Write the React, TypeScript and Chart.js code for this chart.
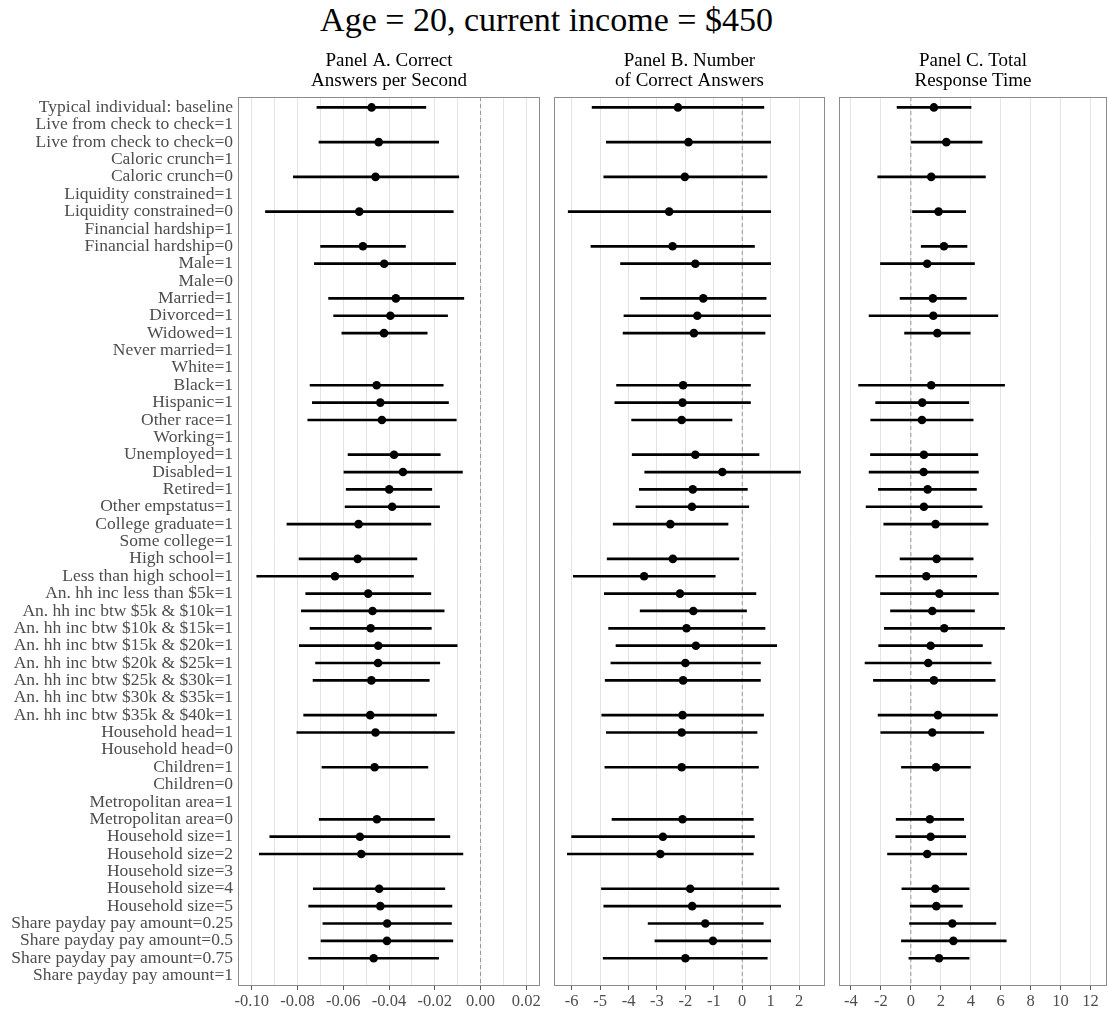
import React, { useEffect, useRef } from "react";
import { Chart, registerables } from "chart.js";

Chart.register(...registerables);

const FONT = "'Liberation Serif', 'Times New Roman', Times, serif";

const mainTitle = "Age = 20, current income = $450";

const categories = [
  "Typical individual: baseline",
  "Live from check to check=1",
  "Live from check to check=0",
  "Caloric crunch=1",
  "Caloric crunch=0",
  "Liquidity constrained=1",
  "Liquidity constrained=0",
  "Financial hardship=1",
  "Financial hardship=0",
  "Male=1",
  "Male=0",
  "Married=1",
  "Divorced=1",
  "Widowed=1",
  "Never married=1",
  "White=1",
  "Black=1",
  "Hispanic=1",
  "Other race=1",
  "Working=1",
  "Unemployed=1",
  "Disabled=1",
  "Retired=1",
  "Other empstatus=1",
  "College graduate=1",
  "Some college=1",
  "High school=1",
  "Less than high school=1",
  "An. hh inc less than $5k=1",
  "An. hh inc btw $5k & $10k=1",
  "An. hh inc btw $10k & $15k=1",
  "An. hh inc btw $15k & $20k=1",
  "An. hh inc btw $20k & $25k=1",
  "An. hh inc btw $25k & $30k=1",
  "An. hh inc btw $30k & $35k=1",
  "An. hh inc btw $35k & $40k=1",
  "Household head=1",
  "Household head=0",
  "Children=1",
  "Children=0",
  "Metropolitan area=1",
  "Metropolitan area=0",
  "Household size=1",
  "Household size=2",
  "Household size=3",
  "Household size=4",
  "Household size=5",
  "Share payday pay amount=0.25",
  "Share payday pay amount=0.5",
  "Share payday pay amount=0.75",
  "Share payday pay amount=1",
];

const N = null;

// Panel A: Correct answers per second
const aLow = [
  -0.0715, N, -0.0706, N, -0.0818, N, -0.094, N, -0.0699, -0.0726, N,
  -0.0664, -0.0642, -0.0606, N, N, -0.0745, -0.0735, -0.0755, N,
  -0.0579, -0.0597, -0.0587, -0.0592, -0.0846, N, -0.0793, -0.0978,
  -0.0764, -0.0783, -0.0745, -0.0792, -0.0721, -0.0732, N, -0.0773,
  -0.0803, N, -0.0693, N, N, -0.0705, -0.0921, -0.0967, N, -0.0731,
  -0.0751, -0.0689, -0.0697, -0.0751, N,
];
const aEst = [
  -0.0476, N, -0.0445, N, -0.0459, N, -0.053, N, -0.0514, -0.0421, N,
  -0.037, -0.0394, -0.0422, N, N, -0.0454, -0.0438, -0.0431, N,
  -0.0378, -0.0339, -0.0399, -0.0386, -0.0533, N, -0.0537, -0.0636,
  -0.0491, -0.0472, -0.048, -0.0447, -0.0448, -0.0477, N, -0.0482,
  -0.0459, N, -0.0463, N, N, -0.0453, -0.0527, -0.0521, N, -0.0443,
  -0.0438, -0.0408, -0.0409, -0.0467, N,
];
const aHigh = [
  -0.0239, N, -0.0183, N, -0.0095, N, -0.0119, N, -0.0328, -0.0109, N,
  -0.0073, -0.0144, -0.0233, N, N, -0.0163, -0.014, -0.0106, N,
  -0.0176, -0.0079, -0.0213, -0.0179, -0.0217, N, -0.0278, -0.0293,
  -0.0217, -0.0159, -0.0215, -0.0102, -0.0178, -0.0224, N, -0.0192,
  -0.0114, N, -0.023, N, N, -0.0201, -0.0134, -0.0077, N, -0.0156,
  -0.0125, -0.0127, -0.0121, -0.0183, N,
];

// Panel B: Number of correct answers
const bLow = [
  -5.28, N, -4.78, N, -4.87, N, -6.12, N, -5.32, -4.28, N,
  -3.58, -4.16, -4.19, N, N, -4.42, -4.48, -3.89, N,
  -3.87, -3.43, -3.62, -3.74, -4.54, N, -4.75, -5.94,
  -4.85, -3.59, -4.7, -4.44, -4.62, -4.82, N, -4.94,
  -4.78, N, -4.83, N, N, -4.58, -6.0, -6.15, N, -4.95,
  -4.87, -3.31, -3.07, -4.89, N,
];
const bEst = [
  -2.26, N, -1.89, N, -2.02, N, -2.57, N, -2.45, -1.65, N,
  -1.37, -1.58, -1.7, N, N, -2.08, -2.1, -2.13, N,
  -1.65, -0.7, -1.74, -1.77, -2.53, N, -2.44, -3.45,
  -2.19, -1.72, -1.96, -1.63, -2.0, -2.08, N, -2.1,
  -2.13, N, -2.13, N, N, -2.1, -2.79, -2.88, N, -1.83,
  -1.76, -1.3, -1.03, -2.0, N,
];
const bHigh = [
  0.76, N, 1.0, N, 0.87, N, 1.0, N, 0.43, 1.0, N,
  0.84, 1.0, 0.8, N, N, 0.29, 0.29, -0.36, N,
  0.59, 2.05, 0.18, 0.23, -0.5, N, -0.12, -0.95,
  0.48, 0.15, 0.8, 1.21, 0.64, 0.64, N, 0.75,
  0.52, N, 0.57, N, N, 0.39, 0.43, 0.39, N, 1.29,
  1.35, 0.74, 1.0, 0.88, N,
];

// Panel C: Total response time
const cLow = [
  -0.92, N, 0.0, N, -2.21, N, 0.11, N, 0.69, -2.03, N,
  -0.72, -2.79, -0.42, N, N, -3.49, -2.35, -2.68, N,
  -2.7, -2.79, -2.17, -2.99, -1.81, N, -0.72, -2.35,
  -2.03, -1.36, -1.77, -2.15, -3.06, -2.5, N, -2.19,
  -2.01, N, -0.63, N, N, -0.98, -1.01, -1.56, N, -0.6,
  -0.04, -0.09, -0.63, -0.13, N,
];
const cEst = [
  1.54, N, 2.37, N, 1.36, N, 1.85, N, 2.21, 1.09, N,
  1.47, 1.5, 1.77, N, N, 1.36, 0.76, 0.74, N,
  0.87, 0.85, 1.12, 0.87, 1.65, N, 1.72, 1.03,
  1.9, 1.43, 2.23, 1.32, 1.16, 1.54, N, 1.81,
  1.43, N, 1.68, N, N, 1.27, 1.32, 1.09, N, 1.63,
  1.7, 2.77, 2.84, 1.88, N,
];
const cHigh = [
  4.02, N, 4.76, N, 4.98, N, 3.66, N, 3.75, 4.25, N,
  3.71, 5.81, 3.96, N, N, 6.26, 3.87, 4.16, N,
  4.47, 4.51, 4.38, 4.76, 5.16, N, 4.16, 4.4,
  5.85, 4.25, 6.26, 4.78, 5.36, 5.63, N, 5.79,
  4.87, N, 3.98, N, N, 3.53, 3.66, 3.73, N, 3.89,
  3.44, 5.68, 6.37, 3.89, N,
];

// Axis ticks (grid positions) and the labelled subset
const gridA = [-0.1, -0.09, -0.08, -0.07, -0.06, -0.05, -0.04, -0.03, -0.02, -0.01, 0, 0.01, 0.02];
const labelsA = [-0.1, -0.08, -0.06, -0.04, -0.02, 0, 0.02];
const gridB = [-6, -5, -4, -3, -2, -1, 0, 1, 2];
const labelsB = [-6, -5, -4, -3, -2, -1, 0, 1, 2];
const gridC = [-4, -2, 0, 2, 4, 6, 8, 10, 12];
const labelsC = [-4, -2, 0, 2, 4, 6, 8, 10, 12];

const zeroLine = 0;
const yMin = -0.6;
const yMax = categories.length - 1 + 0.6;

const boxPlugin = {
  id: "panelBox",
  afterDraw(chart: any) {
    const { ctx, chartArea } = chart;
    const l = Math.round(chartArea.left);
    const t = Math.round(chartArea.top);
    const r = Math.round(chartArea.right);
    const b = Math.round(chartArea.bottom);
    ctx.save();
    ctx.strokeStyle = "#8c8c8c";
    ctx.lineWidth = 1;
    ctx.strokeRect(l + 0.5, t + 0.5, r - l - 1, b - t - 1);
    ctx.restore();
  },
};

type PanelProps = {
  low: (number | null)[];
  est: (number | null)[];
  high: (number | null)[];
  grid: number[];
  labeled: number[];
  decimals: number;
  min: number;
  max: number;
  title: string[];
  left: number;
  width: number;
  padLeft: number;
  padRight: number;
  showY: boolean;
};

function Panel(p: PanelProps) {
  const ref = useRef<HTMLCanvasElement>(null);
  useEffect(() => {
    const bars: any[] = [];
    const pts: any[] = [];
    categories.forEach((_, i) => {
      const lo = p.low[i];
      const hi = p.high[i];
      const e = p.est[i];
      if (lo != null && hi != null) bars.push({ y: i, x: [lo, hi] });
      if (e != null) pts.push({ x: e, y: i });
    });
    const isLab = (v: number) => p.labeled.some((l) => Math.abs(l - v) < 1e-9);
    const chart = new Chart(ref.current as HTMLCanvasElement, {
      type: "bar",
      data: {
        datasets: [
          {
            type: "scatter",
            data: pts,
            backgroundColor: "#000",
            borderColor: "#000",
            borderWidth: 0,
            pointRadius: 4.3,
            order: 0,
          } as any,
          {
            type: "bar",
            data: bars,
            backgroundColor: "#000",
            borderWidth: 0,
            barThickness: 2,
            order: 1,
          } as any,
          {
            type: "line",
            data: [
              { x: zeroLine, y: yMin },
              { x: zeroLine, y: yMax },
            ],
            borderColor: "#9a9a9a",
            borderWidth: 1,
            borderDash: [4, 3],
            pointRadius: 0,
            fill: false,
            order: 2,
          } as any,
        ],
      },
      options: {
        indexAxis: "y",
        responsive: false,
        maintainAspectRatio: false,
        animation: false,
        layout: {
          autoPadding: false,
          padding: { left: p.padLeft, right: p.padRight, top: 0, bottom: 0 },
        },
        plugins: {
          legend: { display: false },
          tooltip: { enabled: false },
          title: {
            display: true,
            text: p.title,
            fullSize: false,
            color: "#000",
            font: { family: FONT, size: 19, weight: "normal", lineHeight: "20px" } as any,
            padding: { top: 51, bottom: 6 },
          },
        },
        scales: {
          x: {
            type: "linear",
            min: p.min,
            max: p.max,
            offset: false,
            afterBuildTicks: (ax: any) => {
              ax.ticks = p.grid.map((v) => ({ value: v }));
            },
            afterFit: (ax: any) => {
              ax.height = 26;
            },
            grid: {
              offset: false,
              color: "#e4e4e4",
              lineWidth: 1,
              drawTicks: true,
              tickLength: 4,
              tickWidth: 1,
              tickColor: (ctx: any) =>
                ctx.tick && isLab(ctx.tick.value) ? "#555" : "rgba(0,0,0,0)",
            },
            border: { display: false },
            ticks: {
              autoSkip: false,
              maxRotation: 0,
              padding: 2,
              color: "#4d4d4d",
              font: { family: FONT, size: 16.5 },
              callback: (v: any) => (isLab(Number(v)) ? Number(v).toFixed(p.decimals) : ""),
            },
          },
          y: {
            type: "linear",
            min: yMin,
            max: yMax,
            reverse: true,
            offset: false,
            display: p.showY,
            afterBuildTicks: (ax: any) => {
              ax.ticks = categories.map((_, i) => ({ value: i }));
            },
            afterFit: (ax: any) => {
              ax.width = p.showY ? 238 : 0;
            },
            grid: { display: false, drawTicks: false, offset: false },
            border: { display: false },
            ticks: {
              autoSkip: false,
              padding: 5,
              color: "#4d4d4d",
              font: { family: FONT, size: 17.5 },
              callback: (v: any) => categories[Number(v)] ?? "",
            },
          },
        },
      },
      plugins: [boxPlugin],
    });
    return () => chart.destroy();
  }, []);
  return (
    <canvas
      ref={ref}
      width={p.width}
      height={1012}
      style={{ position: "absolute", left: p.left, top: 0, width: p.width, height: 1012 }}
    />
  );
}

export default function App() {
  return (
    <div
      style={{
        position: "fixed",
        left: 0,
        top: 0,
        width: 1108,
        height: 1012,
        overflow: "hidden",
        background: "#fff",
      }}
    >
      <div
        style={{
          position: "absolute",
          left: 0,
          top: 3,
          width: 1093,
          textAlign: "center",
          fontFamily: FONT,
          fontSize: 34,
          lineHeight: "34px",
          color: "#000",
          whiteSpace: "nowrap",
        }}
      >
        {mainTitle}
      </div>
      <Panel
        low={aLow}
        est={aEst}
        high={aHigh}
        grid={gridA}
        labeled={labelsA}
        decimals={2}
        min={-0.106}
        max={0.026}
        title={["Panel A. Correct", "Answers per Second"]}
        left={0}
        width={560}
        padLeft={0}
        padRight={20}
        showY={true}
      />
      <Panel
        low={bLow}
        est={bEst}
        high={bHigh}
        grid={gridB}
        labeled={labelsB}
        decimals={0}
        min={-6.62}
        max={2.91}
        title={["Panel B. Number", "of Correct Answers"]}
        left={553}
        width={273}
        padLeft={1}
        padRight={1}
        showY={false}
      />
      <Panel
        low={cLow}
        est={cEst}
        high={cHigh}
        grid={gridC}
        labeled={labelsC}
        decimals={0}
        min={-4.8}
        max={13.1}
        title={["Panel C. Total", "Response Time"]}
        left={838}
        width={270}
        padLeft={1}
        padRight={1}
        showY={false}
      />
    </div>
  );
}
